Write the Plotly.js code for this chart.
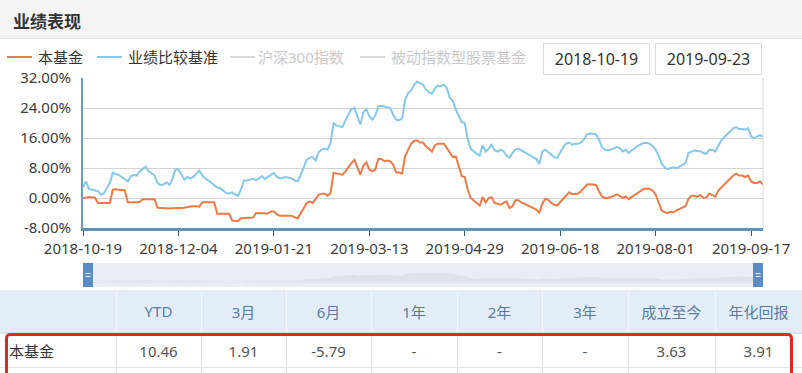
<!DOCTYPE html>
<html><head><meta charset="utf-8">
<script src="https://cdn.plot.ly/plotly-3.0.1.min.js"></script>
<style>
body{margin:0;width:802px;height:373px;overflow:hidden;position:relative;background:#fff;font-family:"Noto Sans","Noto Sans CJK SC",sans-serif;}
.abs{position:absolute;white-space:nowrap;}
#tbl{position:absolute;left:0;top:290px;width:802px;border-collapse:collapse;table-layout:fixed;}
#tbl td{padding:0;text-align:center;font-size:15px;}
#tbl tr.h td{height:42px;background:#e2edf8;color:#5b7b9e;border-right:1px solid #f3f7fb;border-bottom:2px solid #d7e6f4;}
#tbl tr.d td{height:33px;background:#fff;color:#555;border-right:1px solid #e4e4e4;border-bottom:1px solid #e4e4e4;}
#tbl tr.e td{height:20px;border-right:1px solid #e4e4e4;}
</style>
</head><body>
<div class="abs" style="left:0;top:0;width:802px;height:38px;background:#f4f4f4;border-bottom:1px solid #e3e3e3;"></div>
<div class="abs" style="left:13px;top:9px;font-size:17px;font-weight:bold;color:#333;line-height:26px;">业绩表现</div>
<div id="chart" class="abs" style="left:0;top:0;width:802px;height:290px;"></div>
<div id="legend"></div>
<div id="dates"></div>
<table id="tbl"></table>
<div class="abs" style="left:5px;top:333px;width:782px;height:60px;border:3px solid #e3261f;border-radius:5px;"></div>
<script>
// ---- data ----
const tickDates = ["2018-10-19","2018-12-04","2019-01-21","2019-03-13","2019-04-29","2019-06-18","2019-08-01","2019-09-17"];
const tickIndex = [0,32,64,96,128,160,192,224];
const startDate = "2018-10-19";
const endDate = "2019-09-23";
const seriesNames = ["本基金","业绩比较基准","沪深300指数","被动指数型股票基金"];
const fundReturns = [
 0.0,0.2,0.2,0.2,0.1,
 -1.3,-1.3,-1.3,-1.2,-1.3,
 2.2,2.3,2.2,2.2,2.1,
 -1.1,-1.0,-1.1,-1.1,-1.0,
 -0.3,-0.3,-0.3,-0.2,-0.3,
 -2.6,-2.7,-2.7,-2.7,-2.8,-2.7,-2.7,-2.6,-2.7,-2.6,-2.4,
 -2.2,-2.2,-2.2,-2.3,
 -1.1,-1.0,-1.1,-1.1,-1.2,
 -4.2,-4.2,-4.2,-4.3,-4.2,
 -6.0,-6.2,-6.2,
 -5.4,-5.3,-5.3,-5.3,-5.2,
 -4.0,-4.0,-4.1,-4.0,-4.1,
 -3.6,-3.6,
 -4.4,
 -4.7,-4.7,-4.8,-4.7,-4.7,
 -5.2,-5.4,
 -4.0,-2.7,-1.4,
 -0.9,-1.3,-0.3,0.9,1.1,1.2,0.6,1.3,
 6.7,6.5,6.4,6.2,7.1,8.3,9.3,10.2,
 8.4,6.2,8.6,9.5,7.6,7.1,7.6,10.4,
 10.4,9.8,10.0,9.8,8.9,6.8,6.8,6.5,
 11.1,12.9,14.5,15.2,15.4,14.8,14.8,13.8,
 13.1,12.4,14.0,14.5,14.5,14.5,13.3,12.0,
 10.9,11.1,8.4,5.8,5.6,2.2,0.0,-0.7,
 -1.3,-2.0,0.3,-1.2,0.0,0.2,-1.3,-1.5,
 -1.8,-1.3,-0.9,-2.7,-2.2,-0.6,-0.6,-1.2,
 -1.6,-2.0,-2.2,-2.7,-3.1,-3.9,-1.5,-0.2,
 -0.5,-1.3,-1.8,-2.0,-1.1,0.0,0.7,1.5,
 1.0,1.2,1.2,1.8,2.7,3.6,3.7,3.6,
 3.5,1.8,0.4,0.0,0.0,0.3,0.6,0.9,
 0.6,0.0,0.4,-0.3,0.3,0.8,1.5,2.0,
 2.4,2.5,2.4,2.0,0.9,-1.2,-3.3,-3.8,
 -4.0,-3.7,-3.8,-3.3,-2.9,-2.7,-2.2,-0.2,
 0.6,0.6,0.3,0.8,0.0,0.1,1.2,0.8,
 0.3,2.0,2.8,3.7,4.5,5.3,6.0,6.5,
 6.0,6.0,5.6,6.0,4.4,4.0,4.0,4.4,3.6
];
const benchmarkReturns = [
 3.0,4.4,2.4,2.2,2.0,1.8,0.9,1.2,2.7,4.0,
 6.7,6.5,6.1,5.6,5.1,4.4,5.8,6.2,6.0,7.1,
 7.7,8.4,7.1,6.5,6.0,4.0,3.5,3.6,4.2,3.5,
 5.1,7.7,7.6,6.2,4.9,5.6,5.2,5.6,6.5,7.3,
 6.0,5.2,4.7,4.0,3.3,2.8,2.6,1.9,1.3,1.2,
 1.5,1.0,0.6,2.4,4.7,4.7,4.9,5.2,4.7,5.3,
 5.8,5.1,5.6,6.1,6.7,5.6,5.2,5.4,5.6,5.4,
 5.2,4.7,4.4,6.2,8.4,10.2,
 10.7,10.9,10.0,12.2,12.9,13.1,12.9,14.7,
 20.0,19.3,19.1,18.9,20.7,22.2,23.7,24.0,
 21.8,19.6,22.8,23.7,21.8,20.9,22.0,24.4,
 24.6,24.4,24.4,24.0,22.2,20.9,20.7,21.3,
 26.2,28.0,28.7,30.2,31.1,30.7,30.2,28.9,
 28.2,27.8,29.3,30.0,29.8,30.2,29.3,26.7,
 26.0,23.6,21.8,20.2,20.0,15.6,13.1,12.4,
 11.8,11.3,14.0,12.4,13.1,14.2,12.7,12.4,
 12.9,12.4,11.3,10.7,12.0,12.9,13.2,12.7,
 12.2,11.8,11.3,10.9,10.4,9.1,12.4,12.9,
 12.2,11.6,10.9,10.7,12.0,13.6,14.5,14.8,
 14.2,14.5,14.5,14.8,15.7,17.0,17.2,17.2,
 17.0,15.6,13.6,12.9,12.7,12.9,13.2,13.6,
 13.3,12.4,12.9,12.0,12.8,13.2,13.9,14.4,
 14.7,14.7,14.5,13.8,12.9,11.3,9.2,8.2,
 7.7,8.0,8.2,7.9,8.4,8.8,9.3,12.0,
 12.4,12.7,12.5,12.5,12.0,11.8,12.9,12.9,
 12.4,14.0,15.4,16.2,17.0,17.9,18.6,18.9,
 18.4,18.4,18.2,18.6,16.4,16.0,16.4,16.8,16.4
];
const yTicks = [-8,0,8,16,24,32];
const tableHeaders = ["","YTD","3月","6月","1年","2年","3年","成立至今","年化回报"];
const tableRow = ["本基金","10.46","1.91","-5.79","-","-","-","3.63","3.91"];

// ---- chart ----
const idx = fundReturns.map((_, i) => i);
const FUND_C = "#ee7b47", BENCH_C = "#86c8ea";
const traces = [
  {x: idx, y: benchmarkReturns, xaxis: "x2", yaxis: "y2", type: "scatter", mode: "lines",
   line: {width: 0, color: "rgba(0,0,0,0)"}, fill: "tozeroy", fillcolor: "rgba(185,192,200,0.22)", hoverinfo: "skip"},
  {x: idx, y: benchmarkReturns, name: seriesNames[1], type: "scatter", mode: "lines",
   line: {color: BENCH_C, width: 2}},
  {x: idx, y: fundReturns, name: seriesNames[0], type: "scatter", mode: "lines",
   line: {color: FUND_C, width: 2}}
];
const H = 209; // plot area height 78..287
const layout = {
  width: 802, height: 290,
  margin: {l: 83, r: 39, t: 78, b: 3},
  paper_bgcolor: "rgba(0,0,0,0)", plot_bgcolor: "rgba(0,0,0,0)",
  showlegend: false,
  font: {family: "Noto Sans, sans-serif"},
  xaxis: {range: [0, 228], tickvals: tickIndex, ticktext: tickDates, ticks: "outside", ticklen: 5,
    tickcolor: "#3f5262", tickwidth: 1, showgrid: false, zeroline: false, showline: true,
    linecolor: "#5d94b9", linewidth: 3, tickfont: {size: 15, color: "#3c3c3c"}, anchor: "y", fixedrange: true},
  yaxis: {domain: [1 - 150 / H, 1], range: [-8, 32.01], tickmode: "array", tickvals: yTicks,
    ticktext: yTicks.map(v => v.toFixed(2) + "%"), showgrid: true, gridcolor: "#d3d3d3", gridwidth: 1,
    zeroline: false, showline: true, linecolor: "#6b9dc4", linewidth: 2,
    ticks: "outside", ticklen: 7, tickcolor: "rgba(0,0,0,0)", ticklabeloverflow: "allow",
    tickfont: {size: 15, color: "#3c3c3c"}, fixedrange: true},
  xaxis2: {range: [0, 228], anchor: "y2", visible: false, fixedrange: true},
  yaxis2: {domain: [0, 24 / H], range: [-14, 60], visible: false, fixedrange: true},
  shapes: [
    {type: "rect", xref: "paper", yref: "y2 domain", x0: 0, x1: 1, y0: 0, y1: 1, fillcolor: "#e8eef5", line: {width: 0}, layer: "below"},
    {type: "line", xref: "paper", yref: "y domain", x0: 1, x1: 1, y0: 0, y1: 1, line: {color: "#d8d8d8", width: 1}},
    {type: "rect", xref: "paper", yref: "y2 domain", x0: 0, x1: 10 / 680, y0: 0, y1: 1, fillcolor: "#5b8cc3", line: {width: 0}},
    {type: "rect", xref: "paper", yref: "y2 domain", x0: 670 / 680, x1: 1, y0: 0, y1: 1, fillcolor: "#5b8cc3", line: {width: 0}},
    {type: "line", xref: "paper", yref: "y2 domain", x0: 2.5 / 680, x1: 7.5 / 680, y0: 0.56, y1: 0.56, line: {color: "#eef4fb", width: 1}},
    {type: "line", xref: "paper", yref: "y2 domain", x0: 2.5 / 680, x1: 7.5 / 680, y0: 0.44, y1: 0.44, line: {color: "#eef4fb", width: 1}},
    {type: "line", xref: "paper", yref: "y2 domain", x0: 672.5 / 680, x1: 677.5 / 680, y0: 0.56, y1: 0.56, line: {color: "#eef4fb", width: 1}},
    {type: "line", xref: "paper", yref: "y2 domain", x0: 672.5 / 680, x1: 677.5 / 680, y0: 0.44, y1: 0.44, line: {color: "#eef4fb", width: 1}}
  ]
};
Plotly.newPlot("chart", traces, layout, {staticPlot: true, displayModeBar: false});

// ---- legend (html) ----
const legendItems = [
  {name: seriesNames[0], color: FUND_C, sw: 7, tx: 38, txtColor: "#333"},
  {name: seriesNames[1], color: BENCH_C, sw: 97, tx: 128, txtColor: "#333"},
  {name: seriesNames[2], color: "#d9d9d9", sw: 230, tx: 258, txtColor: "#c9c9c9"},
  {name: seriesNames[3], color: "#d9d9d9", sw: 360, tx: 391, txtColor: "#c9c9c9"}
];
const lg = document.getElementById("legend");
legendItems.forEach(it => {
  const s = document.createElement("div");
  s.className = "abs";
  s.style.cssText = `left:${it.sw}px;top:56px;width:25px;height:2px;background:${it.color};`;
  lg.appendChild(s);
  const t = document.createElement("div");
  t.className = "abs";
  t.style.cssText = `left:${it.tx}px;top:45px;line-height:24px;font-size:15px;color:${it.txtColor};`;
  t.textContent = it.name;
  lg.appendChild(t);
});
// ---- date boxes ----
const dt = document.getElementById("dates");
[[543, startDate], [655, endDate]].forEach(([l, txt]) => {
  const b = document.createElement("div");
  b.className = "abs";
  b.style.cssText = `left:${l}px;top:43px;width:105px;height:30px;border:1px solid #dcdcdc;background:#fff;text-align:center;line-height:30px;font-size:16px;color:#333;`;
  b.textContent = txt;
  dt.appendChild(b);
});
// ---- table ----
const colW = [116, 85, 85, 85, 86, 85, 86, 87, 87];
const tbl = document.getElementById("tbl");
const cg = document.createElement("colgroup");
colW.forEach(w => { const c = document.createElement("col"); c.style.width = w + "px"; cg.appendChild(c); });
tbl.appendChild(cg);
function addRow(cls, cells) {
  const tr = document.createElement("tr"); tr.className = cls;
  cells.forEach((c, i) => {
    const td = document.createElement("td"); td.textContent = c;
    if (cls === "d" && i === 0) { td.style.textAlign = "left"; td.style.paddingLeft = "9px"; td.style.color = "#333"; }
    tr.appendChild(td);
  });
  tbl.appendChild(tr);
}
addRow("h", tableHeaders);
addRow("d", tableRow);
addRow("e", tableHeaders.map(() => ""));
</script>
</body></html>
